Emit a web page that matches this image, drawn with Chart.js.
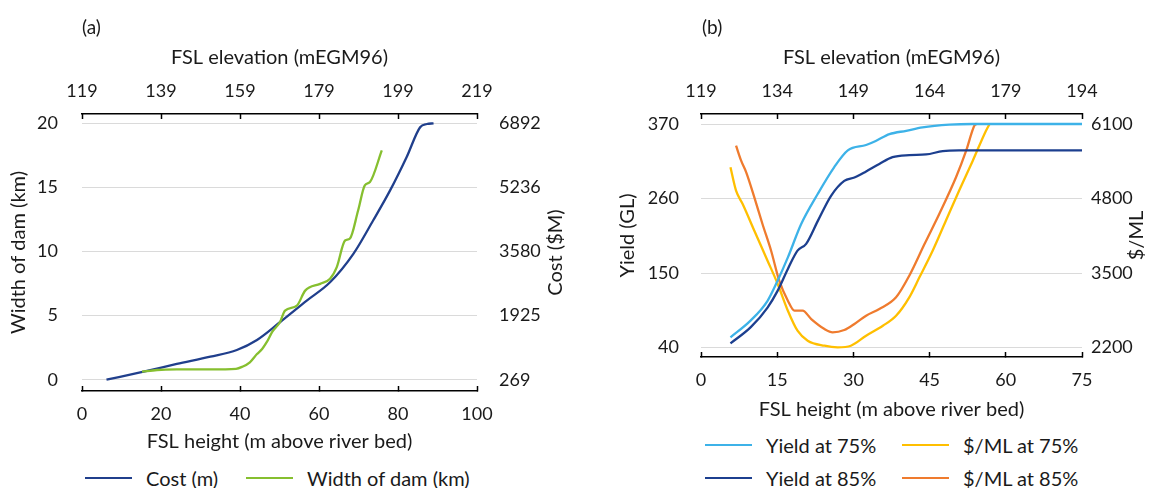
<!DOCTYPE html>
<html>
<head>
<meta charset="utf-8">
<script src="https://cdn.jsdelivr.net/npm/chart.js@4.4.1/dist/chart.umd.min.js"></script>
<style>
  body { margin: 0; background: #fff; }
  #wrap { position: relative; width: 1171px; height: 488px; overflow: hidden; font-family: Lato, sans-serif; color: #1a1a1a; }
  canvas { position: absolute; top: 0; }
  .lbl { position: absolute; font-size: 19px; line-height: 24px; }
  .key { position: absolute; height: 24px; font-size: 20px; display: flex; align-items: center; white-space: nowrap; }
  .key .ln { display: inline-block; width: 47px; height: 2.5px; margin-right: 14px; }
</style>
</head>
<body>
<div id="wrap">
  <canvas id="chartA" width="585" height="460" style="left:0"></canvas>
  <canvas id="chartB" width="586" height="430" style="left:585px"></canvas>
  <div class="lbl" style="left:82px; top:15px">(a)</div>
  <div class="lbl" style="left:702px; top:15px">(b)</div>

  <div class="key" style="left:85px; top:466px"><span class="ln" style="background:#203f8c"></span>Cost (m)</div>
  <div class="key" style="left:246px; top:466px"><span class="ln" style="background:#86bf2f"></span>Width of dam (km)</div>

  <div class="key" style="left:705px; top:433px"><span class="ln" style="background:#3db2e8"></span>Yield at 75%</div>
  <div class="key" style="left:902px; top:433px"><span class="ln" style="background:#ffbf00"></span>$/ML at 75%</div>
  <div class="key" style="left:705px; top:466px"><span class="ln" style="background:#1c3f8f"></span>Yield at 85%</div>
  <div class="key" style="left:902px; top:466px"><span class="ln" style="background:#ef7b2e"></span>$/ML at 85%</div>
</div>

<script>
// panel (a)
const heightTicksA = [0, 20, 40, 60, 80, 100];
const elevTicksA = [119, 139, 159, 179, 199, 219];
const widthTicks = [0, 5, 10, 15, 20];
const costTicks = [269, 1925, 3580, 5236, 6892];

const costX = [6.2, 15.6, 24, 32.5, 39.2, 44.3, 50.1, 56.9, 62.8, 68.7, 73.7, 78, 82.2, 85.6, 87.3, 89];
const costVals = [269, 478, 676, 865, 1037, 1296, 1753, 2312, 2786, 3521, 4382, 5160, 6024, 6793, 6875, 6892];

const widthX = [15.2, 19, 24, 32.5, 39, 40.5, 42.5, 44.3, 45.6, 46.8, 48.2, 50.1, 51.4, 54.4, 56.5, 60.3, 62.8, 64.5, 66.6, 67.8, 69.9, 71.6, 72.9, 75.9];
const widthVals = [0.63, 0.76, 0.8, 0.8, 0.85, 1.0, 1.36, 2.0, 2.4, 2.95, 3.75, 4.48, 5.39, 5.78, 6.95, 7.48, 7.87, 8.78, 10.86, 11.0, 13.2, 15.16, 15.42, 17.89];

// panel (b)
const heightTicksB = [0, 15, 30, 45, 60, 75];
const elevTicksB = [119, 134, 149, 164, 179, 194];
const yieldTicks = [40, 150, 260, 370];
const priceTicks = [2200, 3500, 4800, 6100];

const yield75X = [5.8, 9.8, 13.1, 15.1, 17.1, 19.7, 23, 26.2, 28.9, 32.5, 34.4, 37.1, 40.4, 43.6, 48.9, 53.5, 60, 75];
const yield75 = [55, 80, 109, 139, 173, 222, 267, 306, 331, 339, 345, 355, 360, 365, 369, 370, 370, 370];

const yield85X = [5.8, 9.8, 13.1, 15.1, 17.1, 19, 20.7, 23, 25.6, 28.2, 30.2, 32.5, 35.1, 37.7, 41, 44.3, 47.6, 50.8, 60, 75];
const yield85 = [46, 70, 99, 124, 156, 183, 193, 227, 264, 286, 291, 300, 311, 321, 324, 325, 330, 331, 331, 331];

const price75X = [5.8, 6.9, 8.2, 10.5, 13.1, 15.1, 17.1, 19, 21, 24.3, 26.9, 29.5, 32.5, 35.8, 38.4, 41, 43, 45.6, 48.2, 50.8, 53.5, 56.1, 56.8];
const price75 = [5344, 4936, 4704, 4238, 3715, 3308, 2842, 2493, 2319, 2231, 2203, 2231, 2406, 2580, 2755, 3076, 3425, 3889, 4413, 4936, 5460, 5983, 6100];

const price85X = [6.9, 7.9, 8.9, 10.5, 12.1, 13.8, 15.4, 17.1, 18.4, 20, 21.7, 24.3, 25.9, 28.2, 30.2, 32.5, 35.1, 38.4, 41, 44, 46.9, 50.2, 52.2, 53.8, 54.2];
const price85 = [5721, 5460, 5257, 4821, 4355, 3889, 3366, 3017, 2842, 2842, 2697, 2523, 2465, 2505, 2610, 2755, 2872, 3076, 3453, 4006, 4530, 5170, 5634, 6070, 6100];

const textColor = '#1a1a1a';
const tickFont = { family: 'Lato', size: 18 };
const titleFont = { family: 'Lato', size: 20 };

function pts(xs, ys) {
  return xs.map((x, i) => ({ x: x, y: ys[i] }));
}
function fixTicks(values) {
  return function(scale) { scale.ticks = values.map(v => ({ value: v })); };
}
function fixWidth(w) {
  return function(scale) { scale.width = w; };
}
function fixHeight(h) {
  return function(scale) { scale.height = h; };
}
function plain(v) {
  return String(v);
}
function line(label, data, color, yAxis) {
  return {
    label: label, data: data, borderColor: color, backgroundColor: color,
    borderWidth: 2.3, pointRadius: 0, cubicInterpolationMode: 'monotone',
    xAxisID: 'x', yAxisID: yAxis
  };
}

// right-hand axis titles read bottom to top, like the left ones
const rightTitle = {
  id: 'rightTitle',
  afterDraw(chart, args, opts) {
    const s = chart.scales.y2;
    const ctx = chart.ctx;
    ctx.save();
    ctx.font = '20px Lato';
    ctx.fillStyle = textColor;
    ctx.textAlign = 'center';
    ctx.textBaseline = 'middle';
    ctx.translate(s.right - opts.offset, (chart.chartArea.top + chart.chartArea.bottom) / 2);
    ctx.rotate(-Math.PI / 2);
    ctx.fillText(opts.text, 0, 0);
    ctx.restore();
  }
};

function xAxes(ticks, elevTicks, bottomH, bottomPad) {
  const axisLine = { display: true, color: '#000', width: 1.5 };
  const grid = { display: true, drawOnChartArea: false, drawTicks: true, tickLength: -5, tickColor: '#000', tickWidth: 1.5 };
  return {
    x: {
      type: 'linear', position: 'bottom',
      min: ticks[0], max: ticks[ticks.length - 1],
      afterBuildTicks: fixTicks(ticks), afterFit: fixHeight(bottomH),
      border: axisLine, grid: grid,
      ticks: { font: tickFont, color: textColor, padding: 17, autoSkip: false, maxRotation: 0, callback: plain },
      title: { display: true, text: 'FSL height (m above river bed)', font: titleFont, color: textColor, padding: { top: 0, bottom: bottomPad } }
    },
    x2: {
      type: 'linear', position: 'top',
      min: elevTicks[0], max: elevTicks[elevTicks.length - 1],
      afterBuildTicks: fixTicks(elevTicks), afterFit: fixHeight(114),
      border: axisLine, grid: grid,
      ticks: { font: tickFont, color: textColor, padding: 17, autoSkip: false, maxRotation: 0, callback: plain },
      title: { display: true, text: 'FSL elevation (mEGM96)', font: titleFont, color: textColor, padding: { top: 46, bottom: 0 } }
    }
  };
}

// panel (a): width axis runs a little past 0 and 20, cost axis is tied to it
const wMin = -0.88, wMax = 20.73;
const costPerKm = (costTicks[costTicks.length - 1] - costTicks[0]) / (widthTicks[widthTicks.length - 1] - widthTicks[0]);

const scalesA = xAxes(heightTicksA, elevTicksA, 69, 6);
scalesA.y = {
  position: 'left', min: wMin, max: wMax,
  afterBuildTicks: fixTicks(widthTicks), afterFit: fixWidth(82),
  border: { display: false },
  grid: { color: '#dadada', lineWidth: 1, drawTicks: false },
  ticks: { font: tickFont, color: textColor, padding: 24, callback: plain },
  title: { display: true, text: 'Width of dam (km)', font: titleFont, color: textColor, padding: { top: 7, bottom: 0 } }
};
scalesA.y2 = {
  position: 'right',
  min: costTicks[0] + wMin * costPerKm, max: costTicks[0] + wMax * costPerKm,
  afterBuildTicks: fixTicks(costTicks), afterFit: fixWidth(108),
  border: { display: false },
  grid: { display: false, drawTicks: false },
  ticks: { font: tickFont, color: textColor, padding: 22, callback: plain }
};

new Chart(document.getElementById('chartA'), {
  type: 'line',
  data: {
    datasets: [
      line('Width of dam (km)', pts(widthX, widthVals), '#86bf2f', 'y'),
      line('Cost (m)', pts(costX, costVals), '#203f8c', 'y2')
    ]
  },
  options: {
    responsive: false,
    animation: false,
    layout: { padding: 0 },
    scales: scalesA,
    plugins: {
      legend: { display: false },
      tooltip: { enabled: false },
      rightTitle: { text: 'Cost ($M)', offset: 29 }
    }
  },
  plugins: [rightTitle]
});

// panel (b)
const gPerPx = (yieldTicks[3] - yieldTicks[0]) / 223.5;
const yMin = yieldTicks[0] - 9.5 * gPerPx, yMax = yieldTicks[3] + 10 * gPerPx;
const pricePerGL = (priceTicks[3] - priceTicks[0]) / (yieldTicks[3] - yieldTicks[0]);

const scalesB = xAxes(heightTicksB, elevTicksB, 73, 8);
scalesB.y = {
  position: 'left', min: yMin, max: yMax,
  afterBuildTicks: fixTicks(yieldTicks), afterFit: fixWidth(116),
  border: { display: false },
  grid: { color: '#dadada', lineWidth: 1, drawTicks: false },
  ticks: { font: tickFont, color: textColor, padding: 22, callback: plain },
  title: { display: true, text: 'Yield (GL)', font: titleFont, color: textColor, padding: { top: 31, bottom: 0 } }
};
scalesB.y2 = {
  position: 'right',
  min: priceTicks[0] + (yMin - yieldTicks[0]) * pricePerGL,
  max: priceTicks[0] + (yMax - yieldTicks[0]) * pricePerGL,
  afterBuildTicks: fixTicks(priceTicks), afterFit: fixWidth(89),
  border: { display: false },
  grid: { display: false, drawTicks: false },
  ticks: { font: tickFont, color: textColor, padding: 9, callback: plain }
};

new Chart(document.getElementById('chartB'), {
  type: 'line',
  data: {
    datasets: [
      line('Yield at 75%', pts(yield75X, yield75), '#3db2e8', 'y'),
      line('Yield at 85%', pts(yield85X, yield85), '#1c3f8f', 'y'),
      line('$/ML at 75%', pts(price75X, price75), '#ffbf00', 'y2'),
      line('$/ML at 85%', pts(price85X, price85), '#ef7b2e', 'y2')
    ]
  },
  options: {
    responsive: false,
    animation: false,
    layout: { padding: 0 },
    scales: scalesB,
    plugins: {
      legend: { display: false },
      tooltip: { enabled: false },
      rightTitle: { text: '$/ML', offset: 34 }
    }
  },
  plugins: [rightTitle]
});
</script>
</body>
</html>
